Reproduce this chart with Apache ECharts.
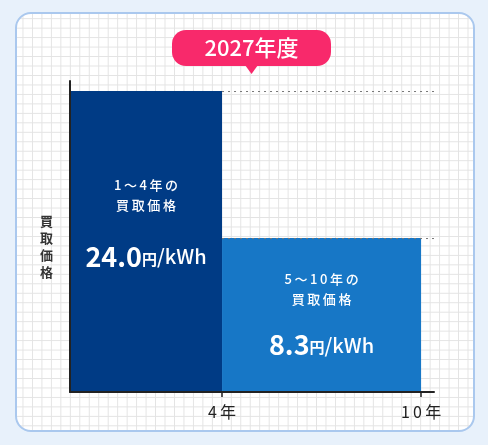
<!DOCTYPE html>
<html>
<head>
    <meta charset="utf-8">
    <title>買取価格 2027年度</title>
    <script src="https://cdn.jsdelivr.net/npm/echarts@6/dist/echarts.min.js"></script>
    <style>
        body { margin: 0; background: #e8f1fb; }
        #card {
            position: absolute; left: 15px; top: 12px; width: 456px; height: 416px;
            border: 2px solid #aac8ee; border-radius: 16px;
            background-color: #fff;
            background-image:
                linear-gradient(#e3e3e3 1px, transparent 1px),
                linear-gradient(90deg, #e3e3e3 1px, transparent 1px);
            background-size: 9.47px 9.47px;
            background-position: 5.5px 4.2px;
        }
        #chart { position: absolute; left: 0; top: 0; width: 488px; height: 445px; }
    </style>
</head>
<body>
    <div id="card"></div>
    <div id="chart"></div>
    <script type="text/javascript">
        // データ
        var fiscalYear = '2027年度';
        var endYears = [4, 10];                 // 期間の終わり（年）
        var periods = ['1〜4年の', '5〜10年の'];
        var prices = [24.0, 8.3];               // 円/kWh
        var barColors = ['#003b85', '#1777c6'];

        var FONT = '"Noto Sans CJK JP", "Noto Sans", sans-serif';
        // 文字の縦位置（棒の高さに対する割合）
        var captionAt = [0.345, 0.334];
        var priceAt = [0.551, 0.695];

        // 字間を少し空ける
        function spaced(s) { return s.split('').join('\u2009'); }

        var chart = echarts.init(document.getElementById('chart'), null, { renderer: 'canvas' });

        function renderItem(params, api) {
            var i = params.dataIndex;
            var cs = params.coordSys;
            var base = cs.y + cs.height;
            var right = api.coord([api.value(0), 0])[0];
            var left = i === 0 ? cs.x : api.coord([endYears[i - 1], 0])[0];
            var top = api.coord([0, api.value(1)])[1];
            var lineFrom = api.coord([endYears[0], 0])[0];
            var cx = (left + right) / 2;
            var h = base - top;
            return {
                type: 'group',
                children: [
                    {
                        type: 'rect',
                        shape: { x: left, y: top, width: right - left, height: h },
                        style: { fill: barColors[i] }
                    },
                    {
                        type: 'line',
                        shape: { x1: lineFrom, y1: top + 0.5, x2: cs.x + cs.width, y2: top + 0.5 },
                        style: { stroke: '#777', lineWidth: 1, lineDash: [2, 4] }
                    },
                    {
                        type: 'text',
                        x: cx, y: top + h * captionAt[i],
                        style: {
                            text: spaced(periods[i]) + '\n' + spaced('買取価格'),
                            fill: '#fff', font: '500 13px ' + FONT,
                            lineHeight: 20, align: 'center', verticalAlign: 'middle'
                        }
                    },
                    {
                        type: 'text',
                        x: cx, y: top + h * priceAt[i],
                        style: {
                            text: '{num|' + prices[i].toFixed(1) + '}{yen|円}{unit|/kWh}',
                            align: 'center', verticalAlign: 'middle',
                            rich: {
                                num: { fill: '#fff', fontFamily: FONT, fontSize: 27, fontWeight: 'bold' },
                                yen: { fill: '#fff', fontFamily: FONT, fontSize: 15, fontWeight: 'bold', padding: [4, 0, 0, 0] },
                                unit: { fill: '#fff', fontFamily: FONT, fontSize: 20, fontWeight: 500 }
                            }
                        }
                    }
                ]
            };
        }

        chart.setOption({
            animation: false,
            grid: { left: 70, right: 54, top: 81, bottom: 53 },
            xAxis: {
                type: 'value',
                min: -0.583, max: 10.39,
                z: 5,
                splitLine: { show: false },
                axisLine: { show: true, onZero: false, lineStyle: { color: '#222', width: 2 } },
                axisTick: { show: true, customValues: endYears, length: 5, lineStyle: { color: '#222', width: 1.5 } },
                axisLabel: {
                    customValues: endYears, margin: 12,
                    formatter: function (v) { return spaced(v + '年'); },
                    color: '#222', fontSize: 16, fontFamily: FONT
                }
            },
            yAxis: {
                type: 'value',
                min: -8.14, max: 25.07,
                z: 5,
                splitLine: { show: false },
                axisLine: { show: true, onZero: false, lineStyle: { color: '#222', width: 2 } },
                axisTick: { show: false },
                axisLabel: { show: false }
            },
            graphic: [
                {
                    type: 'text', left: 40, top: 213,
                    style: {
                        text: '買\n取\n価\n格', fill: '#333',
                        font: 'bold 13px ' + FONT, lineHeight: 17
                    }
                },
                {
                    type: 'group', left: 172, top: 30,
                    children: [
                        { type: 'rect', shape: { x: 0, y: 0, width: 159, height: 36, r: 14 }, style: { fill: '#f8296b' } },
                        { type: 'polygon', shape: { points: [[73, 35], [86, 35], [79.5, 44]] }, style: { fill: '#f8296b' } },
                        {
                            type: 'text', x: 79.5, y: 18,
                            style: {
                                text: fiscalYear, fill: '#fff', font: '500 22px ' + FONT,
                                align: 'center', verticalAlign: 'middle'
                            }
                        }
                    ]
                }
            ],
            series: [{
                type: 'custom',
                renderItem: renderItem,
                data: endYears.map(function (y, i) { return [y, prices[i]]; })
            }]
        });
    </script>
</body>
</html>
